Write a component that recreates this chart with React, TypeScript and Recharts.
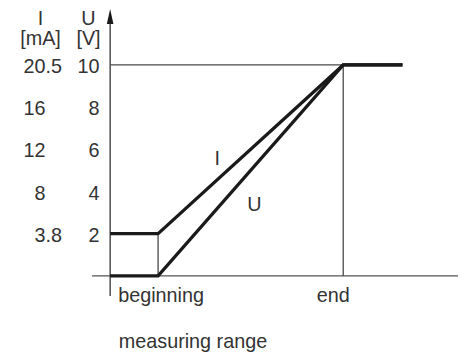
import React from "react";
import {
  ComposedChart,
  Line,
  XAxis,
  YAxis,
  ReferenceLine,
  ReferenceDot,
} from "recharts";

// ---- data ----
const xTicks = [0, 100];
const xTickLabels = ["beginning", "end"];
const xAxisTitle = "measuring range";

const uTicks = [2, 4, 6, 8, 10];
const iTickLabels = ["3.8", "8", "12", "16", "20.5"];
const iHeader = ["I", "[mA]"];
const uHeader = ["U", "[V]"];

const axisX = -25.9; // x position of the vertical axis (data units)
const flatEnd = 132;

const iSeries = [
  { x: axisX, y: 2 },
  { x: 0, y: 2 },
  { x: 100, y: 10 },
  { x: flatEnd, y: 10 },
];
const uSeries = [
  { x: axisX, y: 0 },
  { x: 0, y: 0 },
  { x: 100, y: 10 },
  { x: flatEnd, y: 10 },
];

const xDomain: [number, number] = [-35.7, 162];
const yDomain: [number, number] = [-1, 12.7];

// ---- styles ----
const FONT = "'Liberation Sans', Arial, Helvetica, sans-serif";
const TEXT = "#333333";
const FS = 19.8;
const THICK = "#1a1a1a";
const THIN = "#4a4a4a";

const YTick = (props: any) => {
  const { y, payload, index } = props;
  const iLab: string = iTickLabels[index] ?? "";
  const dot = iLab.indexOf(".");
  const intPart = dot >= 0 ? iLab.slice(0, dot) : iLab;
  const fracPart = dot >= 0 ? iLab.slice(dot) : "";
  const cy = y + 1;
  return (
    <g fontFamily={FONT} fontSize={FS} fill={TEXT}>
      <text x={45.5} y={cy} dy="0.36em" textAnchor="end">
        {intPart}
      </text>
      {fracPart && (
        <text x={45.5} y={cy} dy="0.36em" textAnchor="start">
          {fracPart}
        </text>
      )}
      <text x={99.5} y={cy} dy="0.36em" textAnchor="end">
        {payload.value}
      </text>
    </g>
  );
};

const XTick = (props: any) => {
  const { x, index } = props;
  const offs = [3, -10];
  return (
    <text
      x={x + offs[index]}
      y={302}
      textAnchor="middle"
      fontFamily={FONT}
      fontSize={FS}
      fill={TEXT}
    >
      {xTickLabels[index]}
    </text>
  );
};

const YHeader = () => (
  <g fontFamily={FONT} fontSize={FS} fill={TEXT} textAnchor="middle">
    <text x={40.5} y={25}>{iHeader[0]}</text>
    <text x={40.5} y={45}>{iHeader[1]}</text>
    <text x={88.5} y={25}>{uHeader[0]}</text>
    <text x={88.5} y={45}>{uHeader[1]}</text>
  </g>
);

const XTitle = () => (
  <text x={193} y={348} textAnchor="middle" fontFamily={FONT} fontSize={FS} fill={TEXT}>
    {xAxisTitle}
  </text>
);

const Arrow = (props: any) => {
  const { cx, cy } = props;
  return (
    <polygon
      points={`${cx},${cy} ${cx - 3.3},${cy + 15} ${cx + 3.3},${cy + 15}`}
      fill={THICK}
    />
  );
};

export default function App() {
  return (
    <div style={{ position: "absolute", left: 0, top: 0, background: "#fff" }}>
      <ComposedChart
        width={465}
        height={356}
        margin={{ top: 8, right: 7, bottom: 0, left: 0 }}
      >
        <XAxis
          type="number"
          dataKey="x"
          domain={xDomain}
          allowDataOverflow
          ticks={xTicks}
          interval={0}
          height={59}
          axisLine={false}
          tickLine={false}
          tick={<XTick />}
          label={{ content: () => <XTitle /> }}
        />
        <YAxis
          type="number"
          dataKey="y"
          domain={yDomain}
          allowDataOverflow
          ticks={uTicks}
          interval={0}
          width={92}
          axisLine={false}
          tickLine={false}
          tick={<YTick />}
          label={{ content: () => <YHeader /> }}
        />
        {/* axes */}
        <ReferenceLine
          segment={[{ x: xDomain[0], y: 0 }, { x: xDomain[1], y: 0 }]}
          stroke="#555"
          strokeWidth={1.3}
        />
        <ReferenceLine
          segment={[{ x: axisX, y: -0.95 }, { x: axisX, y: 12 }]}
          stroke="#333"
          strokeWidth={1.3}
        />
        <ReferenceDot x={axisX} y={12.65} r={4} shape={<Arrow />} />
        {/* thin helper lines */}
        <ReferenceLine
          segment={[{ x: axisX, y: 10 }, { x: 100, y: 10 }]}
          stroke={THIN}
          strokeWidth={1.3}
        />
        <ReferenceLine
          segment={[{ x: 100, y: 0 }, { x: 100, y: 10 }]}
          stroke={THIN}
          strokeWidth={1.3}
        />
        <ReferenceLine
          segment={[{ x: 0, y: 0 }, { x: 0, y: 2 }]}
          stroke={THIN}
          strokeWidth={1.3}
        />
        {/* series */}
        <Line
          data={uSeries}
          dataKey="y"
          type="linear"
          stroke={THICK}
          strokeWidth={3.2}
          dot={false}
          activeDot={false}
          isAnimationActive={false}
        />
        <Line
          data={iSeries}
          dataKey="y"
          type="linear"
          stroke={THICK}
          strokeWidth={3.2}
          dot={false}
          activeDot={false}
          isAnimationActive={false}
        />
        <ReferenceDot
          x={32}
          y={5.6}
          r={0}
          fill="none"
          stroke="none"
          label={{ value: "I", position: "center", fontFamily: FONT, fontSize: FS, fill: TEXT }}
        />
        <ReferenceDot
          x={52}
          y={3.4}
          r={0}
          fill="none"
          stroke="none"
          label={{ value: "U", position: "center", fontFamily: FONT, fontSize: FS, fill: TEXT }}
        />
      </ComposedChart>
    </div>
  );
}
